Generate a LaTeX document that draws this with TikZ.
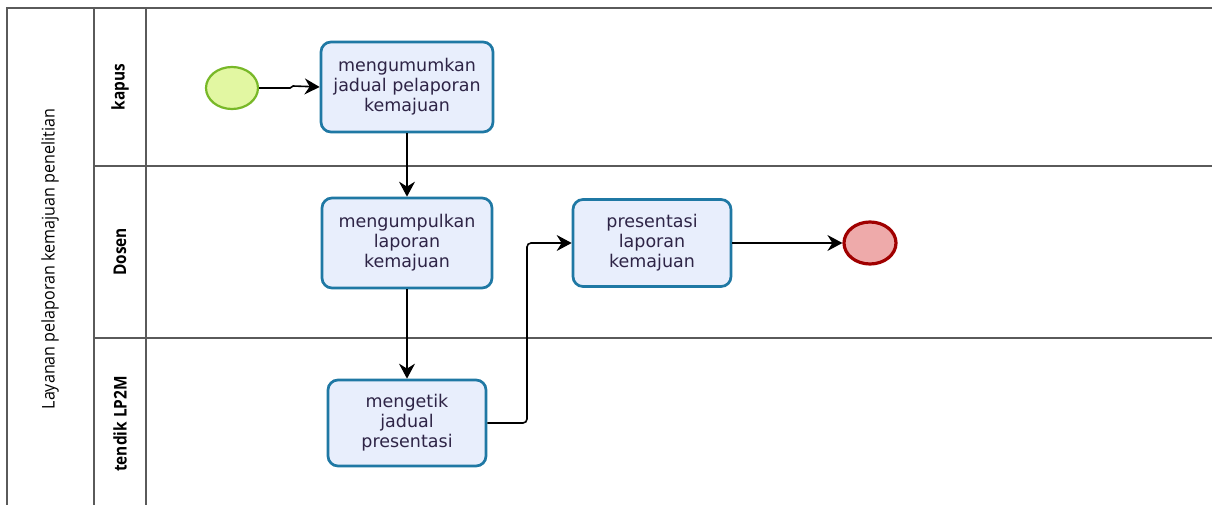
\documentclass[tikz,border=0pt]{standalone}
\usepackage{fontspec}
\setmainfont{DejaVu Sans}
\newfontfamily\lanefont[FakeStretch=0.88]{Open Sans}
\newfontfamily\poolfont[FakeStretch=0.92]{Open Sans}
\usetikzlibrary{arrows.meta,shapes.geometric}
\definecolor{taskfill}{HTML}{E8EEFC}
\definecolor{taskdraw}{HTML}{1F78A4}
\definecolor{tasktext}{HTML}{2E2446}
\definecolor{startfill}{HTML}{E2F7A2}
\definecolor{startdraw}{HTML}{78B828}
\definecolor{endfill}{HTML}{EEAAAA}
\definecolor{enddraw}{HTML}{A00000}
\definecolor{poolline}{HTML}{5A5A5A}
\tikzset{
  task/.style={draw=taskdraw, fill=taskfill, line width=2.7pt, rounded corners=10pt,
    inner sep=0pt, text=tasktext, align=center,
    font=\fontsize{17.5}{20}\selectfont},
  startev/.style={ellipse, draw=startdraw, fill=startfill, line width=2.2pt,
    minimum width=52pt, minimum height=42pt, inner sep=0pt},
  endev/.style={ellipse, draw=enddraw, fill=endfill, line width=3.2pt,
    minimum width=52pt, minimum height=42pt, inner sep=0pt},
  flow/.style={draw=black, line width=1.6pt, -{Stealth[length=15pt,width=16pt,inset=5pt]}},
  poolln/.style={draw=poolline, line width=1.7pt},
  lanelbl/.style={rotate=90, font=\lanefont\bfseries\fontsize{17.5}{18}\selectfont},
  poollbl/.style={rotate=90, font=\poolfont\fontsize{17.5}{18}\selectfont},
}
\begin{document}
\begin{tikzpicture}[x=1pt,y=-1pt]
\useasboundingbox (0,0) rectangle (1212,505);
\fill[white] (0,0) rectangle (1212,505);
% pool and lanes
\draw[poolln] (1212,8) -- (7,8) -- (7,510);
\draw[poolln] (94,8) -- (94,510);
\draw[poolln] (146,8) -- (146,510);
\draw[poolln] (94,166) -- (1212,166);
\draw[poolln] (94,338) -- (1212,338);
\node[poollbl] (pool) at (50,259) {Layanan pelaporan kemajuan penelitian};
\node[lanelbl] (l1) at (120,87) {kapus};
\node[lanelbl] (l2) at (120,252) {Dosen};
\node[lanelbl] (l3) at (120,424) {tendik LP2M};
% nodes
\node[startev] (start) at (232,88) {};
\node[task, minimum width=172pt, minimum height=90pt] (t1) at (407,87) {mengumumkan\\jadual pelaporan\\kemajuan};
\node[task, minimum width=170pt, minimum height=90pt] (t2) at (407,243) {mengumpulkan\\laporan\\kemajuan};
\node[task, minimum width=158pt, minimum height=86pt] (t3) at (407,423) {mengetik\\jadual\\presentasi};
\node[task, minimum width=158pt, minimum height=87pt] (t4) at (652,243) {presentasi\\laporan\\kemajuan};
\node[endev] (end) at (870,243) {};
% flows
\draw[flow] (start.east) -- ++(31,0) -- ++(3,-2) -- (t1.west);
\draw[flow] (t1.south) -- (t2.north);
\draw[flow] (t2.south) -- (t3.north);
\draw[flow, rounded corners=4pt] (t3.east) -| (527,243) -- (t4.west);
\draw[flow] (t4.east) -- (end.west);
\end{tikzpicture}
\end{document}
